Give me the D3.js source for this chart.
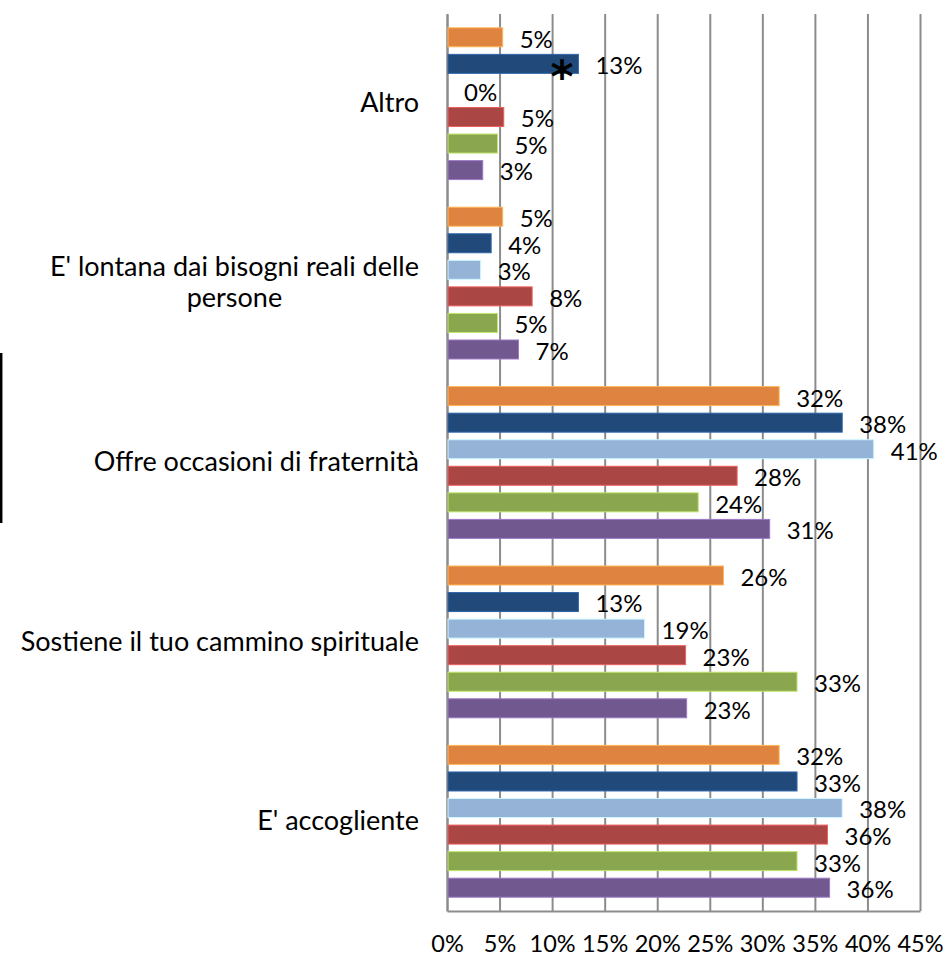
<!DOCTYPE html>
<html>
<head>
<meta charset="utf-8">
<script src="https://cdn.jsdelivr.net/npm/d3@7"></script>
<style>
  body { margin: 0; background: #fff; }
  svg text { font-family: Lato, "Open Sans", sans-serif; fill: #000; }
</style>
</head>
<body>
<div id="chart"></div>
<script>
// categories top to bottom, one value per series (percent)
var categories = ["Altro", "E' lontana dai bisogni reali delle persone",
    "Offre occasioni di fraternità", "Sostiene il tuo cammino spirituale", "E' accogliente"];
var series = ["s1", "s2", "s3", "s4", "s5", "s6"];
var colors = ["#DE8440", "#214A7B", "#95B3D7", "#AA4644", "#8AA64E", "#71588F"];

var s1 = [5.3, 5.3, 31.6, 26.3, 31.6];
var s2 = [12.5, 4.2, 37.6, 12.5, 33.3];
var s3 = [0, 3.2, 40.6, 18.8, 37.6];
var s4 = [5.4, 8.1, 27.6, 22.7, 36.2];
var s5 = [4.8, 4.8, 23.9, 33.3, 33.3];
var s6 = [3.4, 6.8, 30.7, 22.8, 36.4];
var values = [s1, s2, s3, s4, s5, s6];

var xTicks = [0, 5, 10, 15, 20, 25, 30, 35, 40, 45];

var W = 947, H = 957;
var margin = { top: 14, right: 27, bottom: 46, left: 447 };
var width = W - margin.left - margin.right,
    height = H - margin.top - margin.bottom;

var svg = d3.select("#chart").append("svg")
    .attr("width", W).attr("height", H);

var g = svg.append("g")
    .attr("transform", "translate(" + margin.left + "," + margin.top + ")");

var x = d3.scaleLinear().domain([0, 45]).range([0, width]);
var y0 = d3.scaleBand().domain(categories).range([0, height]);
var y1 = d3.scaleBand().domain(series).range([0, y0.bandwidth()])
    .paddingInner(0.285).paddingOuter(0.52);

// x axis with gridlines
var xAxis = d3.axisBottom(x)
    .tickValues(xTicks)
    .tickFormat(function(d) { return d + "%"; })
    .tickSizeInner(-height)
    .tickSizeOuter(0)
    .tickPadding(28);

var xg = g.append("g")
    .attr("transform", "translate(0," + height + ")")
    .call(xAxis);
xg.select(".domain").attr("stroke", "#8C8C8C").attr("stroke-width", 2);
xg.selectAll(".tick line").attr("stroke", "#8C8C8C").attr("stroke-width", 2);
xg.selectAll(".tick text").style("font-size", "23.5px").attr("dy", "0.55em");

// y axis (category line + labels)
var yAxis = d3.axisLeft(y0).tickSize(0).tickPadding(28);
var yg = g.append("g").call(yAxis);
yg.select(".domain").attr("stroke", "#8C8C8C").attr("stroke-width", 2);
yg.selectAll(".tick text").style("font-size", "27px").call(wrap, 420);

function wrap(sel, maxW) {
  sel.each(function() {
    var t = d3.select(this),
        words = t.text().split(/\s+/),
        xPos = +t.attr("x"),
        lines = [], line = [];
    t.text(null);
    var probe = t.append("tspan");
    words.forEach(function(w) {
      line.push(w);
      probe.text(line.join(" "));
      if (probe.node().getComputedTextLength() > maxW && line.length > 1) {
        line.pop();
        lines.push(line.join(" "));
        line = [w];
      }
    });
    lines.push(line.join(" "));
    probe.remove();
    if (lines.length === 1) { t.text(lines[0]); return; }
    // centred block, right edge at the tick padding
    var widths = lines.map(function(l) {
      var s = t.append("tspan").text(l);
      var w = s.node().getComputedTextLength(); s.remove(); return w;
    });
    var maxLine = d3.max(widths);
    var lh = 31;
    t.attr("text-anchor", "middle").attr("dy", null);
    lines.forEach(function(l, i) {
      t.append("tspan")
        .attr("x", xPos - maxLine / 2)
        .attr("y", (i - (lines.length - 1) / 2) * lh)
        .attr("dy", "0.32em")
        .text(l);
    });
  });
}

// bars
var groups = g.selectAll(".cat").data(categories).enter().append("g")
    .attr("class", "cat")
    .attr("transform", function(d) { return "translate(0," + y0(d) + ")"; });

groups.each(function(c, ci) {
  var grp = d3.select(this);
  var rows = series.map(function(s, si) { return { s: s, si: si, v: values[si][ci] }; });

  grp.selectAll("rect").data(rows).enter().append("rect")
    .attr("x", 1)
    .attr("y", function(d) { return y1(d.s); })
    .attr("width", function(d) { return Math.max(0, x(d.v) - 1); })
    .attr("height", y1.bandwidth())
    .attr("fill", function(d) { return colors[d.si]; })
    .attr("stroke", function(d) { return d.v > 0 ? d3.color(colors[d.si]).brighter(0.9) : "none"; })
    .attr("stroke-width", 1);

  grp.selectAll(".lbl").data(rows).enter().append("text")
    .attr("class", "lbl")
    .attr("x", function(d) { return x(d.v) + 17; })
    .attr("y", function(d) { return y1(d.s) + y1.bandwidth() / 2 + 2; })
    .attr("dy", "0.35em")
    .style("font-size", "24px")
    .text(function(d) { return Math.round(d.v) + "%"; });
});

// asterisk on the "Altro" dark blue bar
g.append("text")
    .attr("x", x(values[1][0]) - 16.5)
    .attr("y", y0(categories[0]) + y1(series[1]) + y1.bandwidth() / 2 + 28)
    .attr("text-anchor", "middle")
    .style("font-family", "'DejaVu Sans', sans-serif")
    .style("font-size", "44px")
    .style("font-weight", "bold")
    .text("*");

// stray black line at the left edge
svg.append("line")
    .attr("x1", 1.2).attr("x2", 1.2)
    .attr("y1", 353).attr("y2", 523)
    .attr("stroke", "#000").attr("stroke-width", 2.5);
</script>
</body>
</html>
